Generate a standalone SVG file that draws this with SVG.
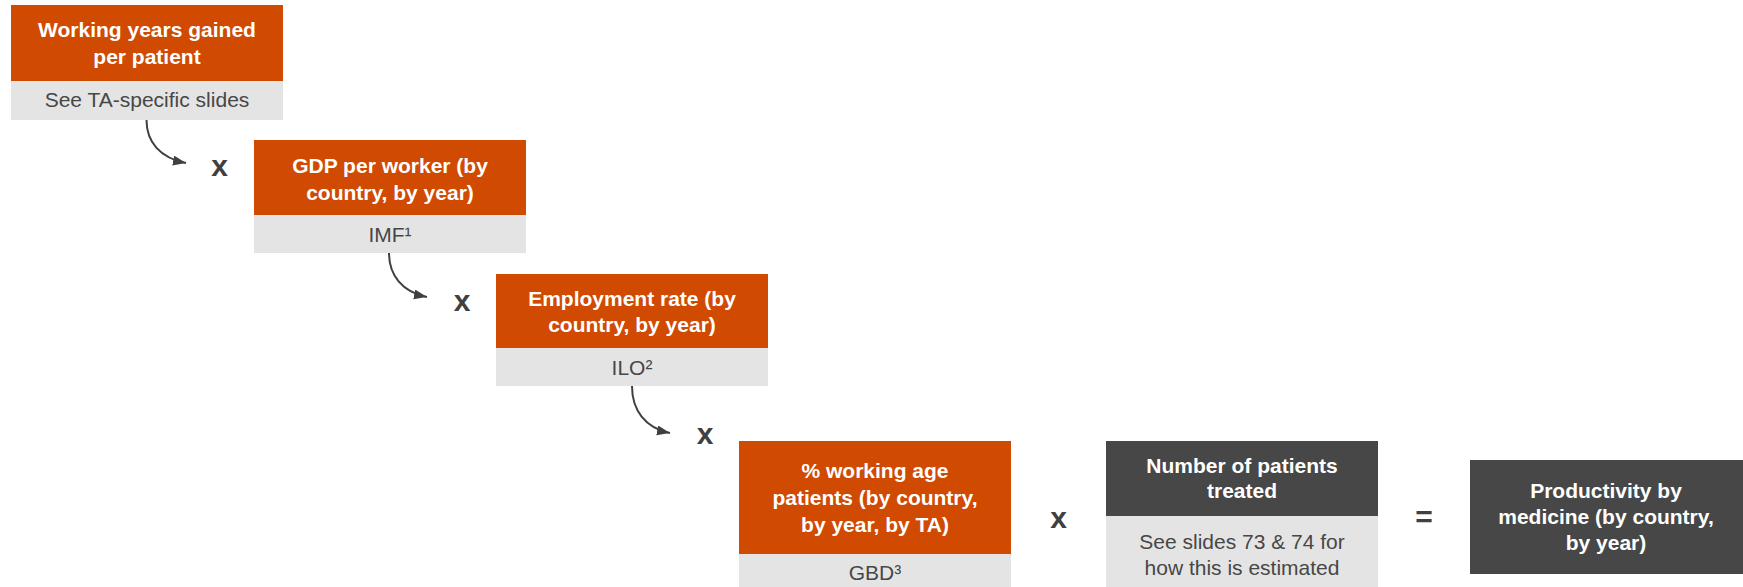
<svg xmlns="http://www.w3.org/2000/svg" width="1743" height="587" viewBox="0 0 1743 587">
<defs>
<style>
.or{fill:#D04A02}
.dk{fill:#474747}
.gr{fill:#E4E4E4}
.ht{font-family:"Liberation Sans",Arial,sans-serif;font-size:21px;font-weight:bold;fill:#FFFFFF;text-anchor:middle}
.st{font-family:"Liberation Sans",Arial,sans-serif;font-size:21px;fill:#474747;text-anchor:middle}
.op{font-family:"Liberation Sans",Arial,sans-serif;font-size:30px;font-weight:bold;fill:#404040;text-anchor:middle}
.cn{fill:none;stroke:#404040;stroke-width:2}
</style>
<marker id="ah" markerUnits="userSpaceOnUse" markerWidth="14" markerHeight="12" refX="13" refY="5" orient="auto">
<path d="M0,0 L13,5 L0,10 Z" fill="#404040"/>
</marker>
</defs>
<rect width="1743" height="587" fill="#FFFFFF"/>

<g id="node-working-years">
<rect class="or" x="11" y="5" width="272" height="76"/>
<rect class="gr" x="11" y="81" width="272" height="39"/>
<text class="ht" x="147" y="37">Working years gained</text>
<text class="ht" x="147" y="63.5">per patient</text>
<text class="st" x="147" y="107">See TA-specific slides</text>
</g>

<g id="node-gdp">
<rect class="or" x="254" y="140" width="272" height="75"/>
<rect class="gr" x="254" y="215" width="272" height="38"/>
<text class="ht" x="390" y="173">GDP per worker (by</text>
<text class="ht" x="390" y="199.5">country, by year)</text>
<text class="st" x="390" y="242">IMF¹</text>
</g>

<g id="node-employment">
<rect class="or" x="496" y="274" width="272" height="74"/>
<rect class="gr" x="496" y="348" width="272" height="38"/>
<text class="ht" x="632" y="305.7">Employment rate (by</text>
<text class="ht" x="632" y="331.7">country, by year)</text>
<text class="st" x="632" y="375">ILO²</text>
</g>

<g id="node-working-age">
<rect class="or" x="739" y="441" width="272" height="113"/>
<rect class="gr" x="739" y="554" width="272" height="33"/>
<text class="ht" x="875" y="478.3">% working age</text>
<text class="ht" x="875" y="505">patients (by country,</text>
<text class="ht" x="875" y="531.7">by year, by TA)</text>
<text class="st" x="875" y="580">GBD³</text>
</g>

<g id="node-patients-treated">
<rect class="dk" x="1106" y="441" width="272" height="75"/>
<rect class="gr" x="1106" y="516" width="272" height="71"/>
<text class="ht" x="1242" y="472.7">Number of patients</text>
<text class="ht" x="1242" y="498.3">treated</text>
<text class="st" x="1242" y="549.3">See slides 73 &amp; 74 for</text>
<text class="st" x="1242" y="575.3">how this is estimated</text>
</g>

<g id="node-productivity">
<rect class="dk" x="1470" y="460" width="273" height="114"/>
<text class="ht" x="1606" y="498.3">Productivity by</text>
<text class="ht" x="1606" y="523.8">medicine (by country,</text>
<text class="ht" x="1606" y="550">by year)</text>
</g>

<g id="operators">
<text class="op" x="219.5" y="176">x</text>
<text class="op" x="462" y="311">x</text>
<text class="op" x="705" y="444">x</text>
<text class="op" x="1058.5" y="528">x</text>
<text class="op" x="1424" y="527">=</text>
</g>

<g id="connectors">
<path class="cn" d="M146.5,120 C146.5,142 160,158 186,163" marker-end="url(#ah)"/>
<path class="cn" d="M389,253 C389,275 402,292 427,297" marker-end="url(#ah)"/>
<path class="cn" d="M632,386 C632,410 645,428 670,433" marker-end="url(#ah)"/>
</g>
</svg>
